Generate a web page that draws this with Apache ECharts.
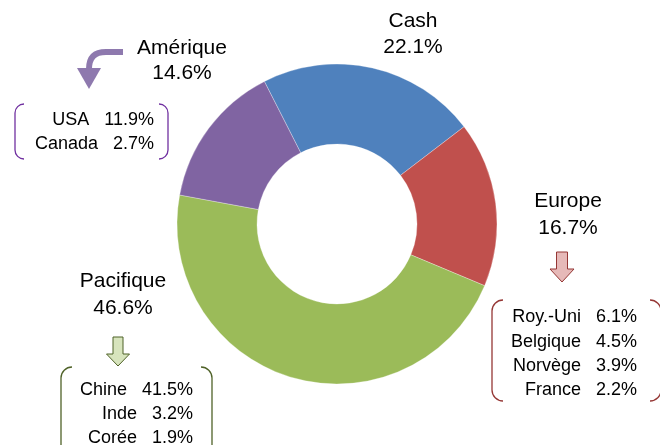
<!DOCTYPE html>
<html>
<head>
<meta charset="utf-8">
<script src="https://cdn.jsdelivr.net/npm/echarts@6/dist/echarts.min.js"></script>
<style>
html,body{margin:0;padding:0;background:#fff;}
#chart{width:660px;height:445px;}
</style>
</head>
<body>
<div id="chart"></div>
<script>
// ---- data ----
const categories = ['Cash', 'Europe', 'Pacifique', 'Amérique'];
const shares = [22.1, 16.7, 46.6, 14.6];
const ameriqueNames = ['USA', 'Canada'];
const ameriqueValues = [11.9, 2.7];
const europeNames = ['Roy.-Uni', 'Belgique', 'Norvège', 'France'];
const europeValues = [6.1, 4.5, 3.9, 2.2];
const pacifiqueNames = ['Chine', 'Inde', 'Corée'];
const pacifiqueValues = [41.5, 3.2, 1.9];

// ---- style ----
const sliceColors = ['#4F81BD', '#C0504D', '#9BBB59', '#8064A2'];
const FONT = '"Liberation Sans", Arial, sans-serif';
const pct = v => v.toFixed(1) + '%';

const chart = echarts.init(document.getElementById('chart'), null, {renderer: 'canvas'});

const graphics = [];
function txt(s, x, y, size, align) {
  graphics.push({
    type: 'text', x: x, y: y, silent: true,
    style: {text: s, fill: '#000', fontSize: size, fontFamily: FONT,
            align: align || 'center', verticalAlign: 'middle'}
  });
}
const mainPos = {
  'Cash': [413, 21, 47],
  'Europe': [568, 201, 228],
  'Pacifique': [123, 281, 308],
  'Amérique': [182, 48, 73]
};
categories.forEach((c, i) => {
  const p = mainPos[c];
  txt(c, p[0], p[1], 21);
  txt(pct(shares[i]), p[0], p[2], 21);
});
function list(names, vals, right, y0, step) {
  names.forEach((n, i) => txt(n + '   ' + pct(vals[i]), right, y0 + i * step, 18, 'right'));
}
list(ameriqueNames, ameriqueValues, 154, 120, 24);
list(europeNames, europeValues, 637, 317.5, 24.2);
list(pacifiqueNames, pacifiqueValues, 193, 390, 24.2);

// bracket pairs
function bracket(x1, y1, x2, y2, r, color) {
  const st = {fill: null, stroke: color, lineWidth: 1.3};
  const P = Math.PI;
  const arcs = [
    [x1 + r, y1 + r, P, 1.5 * P],
    [x1 + r, y2 - r, 0.5 * P, P],
    [x2 - r, y1 + r, 1.5 * P, 2 * P],
    [x2 - r, y2 - r, 0, 0.5 * P]
  ];
  arcs.forEach(a => graphics.push({
    type: 'arc', silent: true,
    shape: {cx: a[0], cy: a[1], r: r, startAngle: a[2], endAngle: a[3], clockwise: true},
    style: st
  }));
  graphics.push({type: 'line', silent: true, shape: {x1: x1, y1: y1 + r, x2: x1, y2: y2 - r}, style: st});
  graphics.push({type: 'line', silent: true, shape: {x1: x2, y1: y1 + r, x2: x2, y2: y2 - r}, style: st});
}
bracket(15, 104, 168, 159, 9, '#7030A0');
bracket(492, 300, 661, 401, 11, '#953735');
bracket(61, 367, 212, 462, 11, '#4F6228');

// block arrows
function blockArrow(cx, top, shaftW, headBaseY, headW, tipY, fill, stroke) {
  const s = shaftW / 2, h = headW / 2;
  graphics.push({
    type: 'polygon', silent: true,
    shape: {points: [[cx - s, top], [cx + s, top], [cx + s, headBaseY], [cx + h, headBaseY],
                     [cx, tipY], [cx - h, headBaseY], [cx - s, headBaseY]]},
    style: {fill: fill, stroke: stroke, lineWidth: 1}
  });
}
blockArrow(562, 252, 11, 269, 24, 282, '#E6B9B8', '#953735');
blockArrow(118, 337, 10, 354, 23, 366, '#D7E4BD', '#4F6228');

// curved purple arrow
const purple = '#8E79AE';
graphics.push({
  type: 'line', silent: true,
  shape: {x1: 123, y1: 52, x2: 105, y2: 52},
  style: {stroke: purple, lineWidth: 6}
});
graphics.push({
  type: 'bezierCurve', silent: true,
  shape: {x1: 106, y1: 52, cpx1: 94, cpy1: 52, cpx2: 89, cpy2: 58, x2: 89, y2: 69},
  style: {fill: null, stroke: purple, lineWidth: 6}
});
graphics.push({
  type: 'polygon', silent: true,
  shape: {points: [[77, 68], [101, 68], [89, 89]]},
  style: {fill: purple}
});

chart.setOption({
  animation: false,
  backgroundColor: '#fff',
  series: [{
    type: 'pie',
    center: [337, 224],
    radius: [80, 160],
    startAngle: 117,
    clockwise: true,
    silent: true,
    label: {show: false},
    labelLine: {show: false},
    itemStyle: {borderWidth: 0.5, borderColor: 'rgba(255,255,255,0.6)'},
    data: categories.map((c, i) => ({name: c, value: shares[i], itemStyle: {color: sliceColors[i]}}))
  }],
  graphic: graphics
});
</script>
</body>
</html>
